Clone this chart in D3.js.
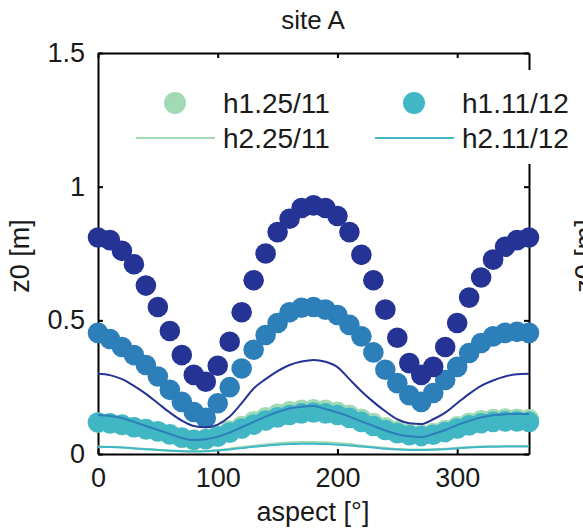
<!DOCTYPE html>
<html>
<head>
<meta charset="utf-8">
<script src="https://cdn.jsdelivr.net/npm/d3@7"></script>
<style>
    body { margin: 0; background: #fff; }
    text { font-family: "Liberation Sans", Arial, sans-serif; fill: #1a1a1a; }
</style>
</head>
<body>
<div id="chart"></div>
<script>
// aspect angles, every 10 degrees
var aspect = [0, 10, 20, 30, 40, 50, 60, 70, 80, 90, 100, 110, 120, 130, 140, 150, 160, 170, 180,
    190, 200, 210, 220, 230, 240, 250, 260, 270, 280, 290, 300, 310, 320, 330, 340, 350, 360];

var xTicks = [0, 100, 200, 300];
var yTicks = [0, 0.5, 1, 1.5];

// h1 (dots)
var h1_25_11 = [0.118, 0.114, 0.108, 0.100, 0.092, 0.083, 0.072, 0.060, 0.052, 0.056, 0.070, 0.088, 0.105,
    0.122, 0.137, 0.150, 0.160, 0.165, 0.167, 0.165, 0.158, 0.147, 0.132, 0.116, 0.100, 0.086, 0.076,
    0.072, 0.078, 0.090, 0.104, 0.117, 0.126, 0.131, 0.133, 0.132, 0.130];
var h1_11_12 = [0.118, 0.115, 0.110, 0.100, 0.093, 0.085, 0.074, 0.062, 0.053, 0.055, 0.065, 0.080, 0.095,
    0.110, 0.125, 0.137, 0.146, 0.152, 0.155, 0.152, 0.146, 0.135, 0.120, 0.105, 0.090, 0.078, 0.070,
    0.067, 0.072, 0.082, 0.095, 0.107, 0.115, 0.120, 0.122, 0.122, 0.120];
var h1_blue = [0.453, 0.430, 0.400, 0.370, 0.333, 0.290, 0.240, 0.195, 0.157, 0.135, 0.190, 0.250, 0.320,
    0.390, 0.445, 0.490, 0.530, 0.547, 0.550, 0.540, 0.520, 0.483, 0.440, 0.380, 0.315, 0.265, 0.220,
    0.195, 0.228, 0.277, 0.326, 0.378, 0.415, 0.440, 0.453, 0.457, 0.453];
var h1_navy = [0.810, 0.800, 0.760, 0.710, 0.630, 0.550, 0.460, 0.370, 0.296, 0.270, 0.330, 0.420, 0.530,
    0.650, 0.750, 0.830, 0.880, 0.920, 0.930, 0.920, 0.890, 0.830, 0.745, 0.650, 0.540, 0.435, 0.340,
    0.296, 0.326, 0.400, 0.490, 0.585, 0.660, 0.727, 0.775, 0.800, 0.810];

// h2 (lines)
var h2_25_11 = [0.028, 0.027, 0.025, 0.022, 0.019, 0.016, 0.013, 0.011, 0.010, 0.011, 0.015, 0.020, 0.026,
    0.031, 0.036, 0.040, 0.043, 0.045, 0.045, 0.044, 0.041, 0.037, 0.032, 0.027, 0.023, 0.019, 0.017,
    0.017, 0.018, 0.020, 0.023, 0.026, 0.028, 0.029, 0.030, 0.030, 0.030];
var h2_11_12 = [0.027, 0.026, 0.024, 0.021, 0.018, 0.015, 0.012, 0.010, 0.009, 0.010, 0.013, 0.017, 0.022,
    0.027, 0.031, 0.035, 0.037, 0.038, 0.038, 0.037, 0.035, 0.032, 0.028, 0.024, 0.020, 0.017, 0.015,
    0.015, 0.016, 0.018, 0.021, 0.024, 0.026, 0.027, 0.028, 0.028, 0.028];
var h2_blue = [0.146, 0.142, 0.135, 0.120, 0.105, 0.090, 0.075, 0.060, 0.052, 0.055, 0.065, 0.080, 0.100,
    0.120, 0.140, 0.157, 0.170, 0.177, 0.180, 0.168, 0.155, 0.140, 0.122, 0.105, 0.088, 0.074, 0.066,
    0.063, 0.075, 0.090, 0.108, 0.124, 0.137, 0.145, 0.149, 0.150, 0.150];
var h2_navy = [0.300, 0.295, 0.280, 0.255, 0.225, 0.190, 0.155, 0.125, 0.105, 0.100, 0.110, 0.140, 0.190,
    0.245, 0.280, 0.310, 0.333, 0.346, 0.352, 0.345, 0.325, 0.280, 0.235, 0.195, 0.160, 0.130, 0.115,
    0.112, 0.130, 0.155, 0.190, 0.225, 0.255, 0.275, 0.290, 0.298, 0.300];

var dotSeries = [
    {name: "h1.25/11", values: h1_25_11, color: "#a1dab4"},
    {name: "h1.11/12", values: h1_11_12, color: "#41b6c4"},
    {name: "h1.blue", values: h1_blue, color: "#2c7fb8"},
    {name: "h1.navy", values: h1_navy, color: "#253494"}
];
var lineSeries = [
    {name: "h2.25/11", values: h2_25_11, color: "#a1dab4"},
    {name: "h2.11/12", values: h2_11_12, color: "#41b6c4"},
    {name: "h2.blue", values: h2_blue, color: "#2c7fb8"},
    {name: "h2.navy", values: h2_navy, color: "#253494"}
];

var W = 583, H = 531;
var margin = {left: 98, right: 529, top: 53, bottom: 454};

var svg = d3.select("#chart")
    .append("svg")
    .attr("width", W)
    .attr("height", H);

var xScale = d3.scaleLinear().domain([0, 360]).range([margin.left, margin.right]);
var yScale = d3.scaleLinear().domain([0, 1.5]).range([margin.bottom, margin.top]);

var fmt = function (d) { return String(d); };

// axes (box with inward ticks)
var axes = svg.append("g").attr("class", "axes");

axes.append("g")
    .attr("transform", `translate(0, ${margin.bottom})`)
    .call(d3.axisBottom(xScale).tickValues(xTicks).tickSizeInner(-5).tickSizeOuter(0).tickPadding(14).tickFormat(fmt));
axes.append("g")
    .attr("transform", `translate(0, ${margin.top})`)
    .call(d3.axisTop(xScale).tickValues(xTicks).tickSizeInner(-5).tickSizeOuter(0).tickFormat(""));
axes.append("g")
    .attr("transform", `translate(${margin.left}, 0)`)
    .call(d3.axisLeft(yScale).tickValues(yTicks).tickSizeInner(-5).tickSizeOuter(0).tickPadding(13).tickFormat(fmt));
axes.append("g")
    .attr("transform", `translate(${margin.right}, 0)`)
    .call(d3.axisRight(yScale).tickValues(yTicks).tickSizeInner(-5).tickSizeOuter(0).tickFormat(""));

axes.selectAll(".domain").attr("stroke", "#000").attr("stroke-width", 2);
axes.selectAll(".tick line").attr("stroke", "#000").attr("stroke-width", 2);
axes.selectAll(".tick text")
    .style("font-size", "27px")
    .attr("fill", "#1a1a1a");

// dots
dotSeries.forEach(function (s) {
    svg.append("g")
        .selectAll("circle")
        .data(aspect)
        .enter()
        .append("circle")
        .attr("cx", (d) => xScale(d))
        .attr("cy", (d, i) => yScale(s.values[i]))
        .attr("r", 10.3)
        .attr("fill", s.color);
});

// lines
var line = d3.line()
    .x((d) => xScale(d[0]))
    .y((d) => yScale(d[1]))
    .curve(d3.curveMonotoneX);

lineSeries.forEach(function (s) {
    svg.append("path")
        .datum(aspect.map((a, i) => [a, s.values[i]]))
        .attr("d", line)
        .attr("fill", "none")
        .attr("stroke", s.color)
        .attr("stroke-width", 2);
});

// legend (white box, runs past the right edge)
var legend = svg.append("g");
legend.append("rect")
    .attr("x", 125)
    .attr("y", 70)
    .attr("width", 500)
    .attr("height", 94)
    .attr("fill", "#fff");

var legendItems = [
    {label: "h1.25/11", color: "#a1dab4", kind: "dot", x: 136, y: 103},
    {label: "h1.11/12", color: "#41b6c4", kind: "dot", x: 375, y: 103},
    {label: "h2.25/11", color: "#a1dab4", kind: "line", x: 136, y: 138},
    {label: "h2.11/12", color: "#41b6c4", kind: "line", x: 375, y: 138}
];
legendItems.forEach(function (d) {
    if (d.kind === "dot") {
        legend.append("circle")
            .attr("cx", d.x + 39)
            .attr("cy", d.y)
            .attr("r", 11)
            .attr("fill", d.color);
    } else {
        legend.append("line")
            .attr("x1", d.x)
            .attr("x2", d.x + 79)
            .attr("y1", d.y)
            .attr("y2", d.y)
            .attr("stroke", d.color)
            .attr("stroke-width", 2);
    }
    legend.append("text")
        .attr("x", d.x + 87)
        .attr("y", d.y + 10)
        .style("font-size", "28px")
        .text(d.label);
});

// titles
svg.append("text")
    .attr("x", 313)
    .attr("y", 29)
    .attr("text-anchor", "middle")
    .style("font-size", "26px")
    .text("site A");

svg.append("text")
    .attr("x", 313)
    .attr("y", 521)
    .attr("text-anchor", "middle")
    .style("font-size", "27px")
    .text("aspect [°]");

svg.append("text")
    .attr("transform", "translate(29, 256) rotate(-90)")
    .attr("text-anchor", "middle")
    .style("font-size", "27px")
    .text("z0 [m]");

// y label of the next panel, cut by the edge
svg.append("text")
    .attr("transform", "translate(594, 256) rotate(-90)")
    .attr("text-anchor", "middle")
    .style("font-size", "27px")
    .text("z0 [m]");
</script>
</body>
</html>
